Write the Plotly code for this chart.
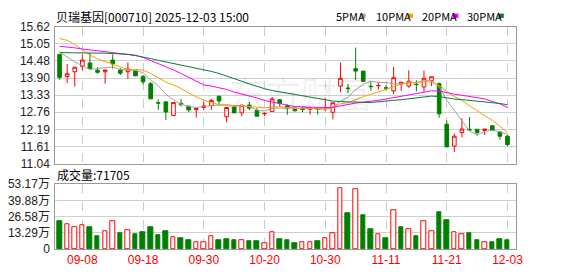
import plotly.graph_objects as go

# ---------------- data ----------------
dates = ["09-03", "09-04", "09-05", "09-08", "09-09", "09-10", "09-11", "09-12", "09-15", "09-16",
         "09-17", "09-18", "09-19", "09-22", "09-23", "09-24", "09-25", "09-26", "09-29", "09-30",
         "10-09", "10-10", "10-13", "10-14", "10-15", "10-16", "10-17", "10-20", "10-21", "10-22",
         "10-23", "10-24", "10-27", "10-28", "10-29", "10-30", "10-31", "11-03", "11-04", "11-05",
         "11-06", "11-07", "11-10", "11-11", "11-12", "11-13", "11-14", "11-17", "11-18", "11-19",
         "11-20", "11-21", "11-24", "11-25", "11-26", "11-27", "11-28", "12-01", "12-02", "12-03"]

opens = [14.70, 13.96, 14.12, 14.30, 14.41, 14.17, 14.12, 14.51, 14.18, 14.12,
         14.15, 13.96, 13.72, 13.08, 13.11, 12.65, 13.06, 12.97, 12.85, 12.92,
         12.99, 13.30, 12.61, 12.94, 12.74, 13.00, 12.82, 12.71, 12.79, 13.18,
         12.98, 12.90, 12.87, 12.87, 12.88, 12.90, 12.76, 13.64, 13.57, 14.22,
         14.14, 13.63, 13.65, 13.58, 13.48, 13.71, 13.64, 13.70, 13.61, 13.82,
         13.72, 12.36, 11.63, 12.08, 12.19, 12.19, 12.15, 12.31, 12.10, 11.96]
highs = [14.70, 14.38, 14.27, 14.70, 14.75, 14.27, 14.18, 14.70, 14.24, 14.43,
         14.15, 14.01, 13.78, 13.19, 13.11, 13.09, 13.21, 12.97, 12.89, 13.11,
         13.21, 13.30, 12.92, 13.00, 13.00, 13.11, 12.90, 12.76, 13.27, 13.21,
         13.03, 12.90, 12.95, 12.95, 12.92, 13.25, 13.08, 14.43, 13.71, 14.93,
         14.14, 13.80, 13.74, 13.66, 14.28, 13.77, 14.17, 13.83, 14.16, 13.95,
         13.76, 12.49, 12.05, 12.56, 12.60, 12.19, 12.20, 12.31, 12.10, 12.00]
lows = [13.85, 13.74, 13.62, 14.17, 14.20, 14.05, 13.72, 14.22, 14.01, 13.88,
        13.98, 13.69, 13.21, 12.84, 12.50, 12.65, 12.95, 12.77, 12.58, 12.84,
        12.84, 13.00, 12.42, 12.74, 12.63, 12.84, 12.63, 12.63, 12.79, 12.95,
        12.68, 12.79, 12.77, 12.68, 12.68, 12.79, 12.52, 13.43, 13.40, 13.85,
        13.78, 13.48, 13.53, 13.48, 13.37, 13.48, 13.58, 13.46, 13.45, 13.64,
        12.58, 11.60, 11.43, 11.92, 12.14, 11.98, 12.00, 12.15, 11.84, 11.62]
closes = [13.93, 14.05, 14.27, 14.51, 14.22, 14.10, 14.18, 14.38, 14.07, 14.21,
          13.98, 13.78, 13.21, 13.07, 12.77, 13.09, 13.02, 12.84, 12.89, 12.97,
          13.16, 13.14, 12.92, 12.74, 13.00, 12.90, 12.63, 12.72, 13.21, 13.05,
          12.90, 12.81, 12.86, 12.88, 12.87, 12.92, 13.08, 13.90, 13.56, 14.14,
          13.80, 13.62, 13.66, 13.57, 13.92, 13.77, 13.80, 13.69, 13.90, 13.95,
          12.71, 11.60, 11.96, 12.20, 12.17, 12.08, 12.20, 12.15, 11.96, 11.68]
close_before_first = 14.20

# volume in 万 (10k)
volumes = [22.6, 20.7, 17.6, 19.2, 17.9, 10.9, 14.5, 23.1, 13.2, 15.3,
           12.4, 14.0, 17.9, 11.7, 14.8, 9.9, 9.3, 7.0, 6.0, 6.0,
           10.6, 7.0, 7.8, 7.0, 7.0, 6.2, 6.2, 4.4, 13.7, 7.8,
           7.0, 4.7, 5.2, 6.0, 6.2, 9.1, 13.2, 49.8, 29.6, 48.8,
           28.0, 16.3, 12.4, 9.3, 31.6, 17.9, 16.1, 10.9, 23.1, 14.5,
           30.3, 23.3, 13.7, 12.2, 13.2, 7.0, 5.2, 5.4, 7.8, 7.1705]

# moving-average values before enough history is available
ma5_head = [14.78, 14.61, 14.45, 14.32]
ma10_head = [15.23, 15.17, 15.04, 14.86, 14.68, 14.55, 14.46, 14.38, 14.29]
ma20_head = [14.97, 14.95, 14.92, 14.88, 14.85, 14.82, 14.80, 14.77, 14.74, 14.71,
             14.67, 14.60, 14.50, 14.40, 14.29, 14.18, 14.06, 13.93, 13.80]
ma30_head = [14.76, 14.76, 14.76, 14.76, 14.75, 14.75, 14.74, 14.73, 14.72, 14.70,
             14.66, 14.62, 14.56, 14.50, 14.45, 14.40, 14.35, 14.30, 14.25, 14.19,
             14.13, 14.06, 13.98, 13.89, 13.80, 13.71, 13.62, 13.55, 13.49]

price_ticks = ["11.04", "11.61", "12.19", "12.76", "13.33", "13.90", "14.48", "15.05", "15.62"]
vol_ticks = ["0", "13.29", "26.58", "39.88", "53.17"]
date_ticks = ["09-08", "09-18", "09-30", "10-20", "10-30", "11-11", "11-21", "12-03"]

title_text = "贝瑞基因[000710] 2025-12-03 15:00"
ma_names = ["5PMA", "10PMA", "20PMA", "30PMA"]
ma_colors = ["#a0a0a0", "#f5a200", "#ff00ff", "#0b7a3a"]

# ---------------- derived ----------------
idx = list(range(len(dates)))


def moving_avg(n, head):
    out = list(head)
    for i in range(n - 1, len(closes)):
        out.append(sum(closes[i - n + 1:i + 1]) / n)
    return out


mas = [moving_avg(5, ma5_head), moving_avg(10, ma10_head),
       moving_avg(20, ma20_head), moving_avg(30, ma30_head)]

RED = "#ff0000"
GREEN = "#008000"
prev = [close_before_first] + closes[:-1]
vol_up = [c >= p for c, p in zip(closes, prev)]
vol_fill = ["#ffffff" if u else GREEN for u in vol_up]
vol_line = [RED if u else GREEN for u in vol_up]

tick_idx = [dates.index(d) for d in date_ticks]

W, H = 578, 276
PL, PR = 56, 522
P_TOP, P_BOT = 21, 165
V_TOP, V_BOT = 186.7, 255

def fx(px):
    return px / W

def fy(py):
    return 1 - py / H

xr = [-0.56, 60.08]

fig = go.Figure()

for name, col, vals in zip(ma_names, ma_colors, mas):
    fig.add_trace(go.Scatter(x=idx, y=vals, mode="lines", line=dict(color=col, width=1),
                             xaxis="x", yaxis="y", showlegend=False, hoverinfo="skip"))

fig.add_trace(go.Candlestick(
    x=idx, open=opens, high=highs, low=lows, close=closes,
    increasing=dict(line=dict(color=RED, width=1), fillcolor="#ffffff"),
    decreasing=dict(line=dict(color=GREEN, width=1), fillcolor=GREEN),
    whiskerwidth=0, xaxis="x", yaxis="y", showlegend=False))

fig.add_trace(go.Bar(x=idx, y=volumes, width=0.6,
                     marker=dict(color=vol_fill, line=dict(color=vol_line, width=1)),
                     xaxis="x2", yaxis="y2", showlegend=False))

num_font = dict(family="Liberation Sans, Arial, sans-serif", size=12, color="#222222")
cjk = "Noto Sans CJK SC, Liberation Sans, sans-serif"

axis_common = dict(showline=True, linecolor="#999999", linewidth=1, mirror=True,
                   zeroline=False, ticks="", fixedrange=True)

fig.update_layout(
    width=W, height=H, margin=dict(l=0, r=0, t=0, b=0),
    paper_bgcolor="#ffffff", plot_bgcolor="#ffffff",
    boxgap=0.32, bargap=0, showlegend=False,
    xaxis=dict(domain=[fx(PL), fx(PR)], range=xr, anchor="y",
               tickvals=tick_idx, showticklabels=False,
               showgrid=True, gridcolor="#cccccc", griddash="dash", gridwidth=1,
               rangeslider=dict(visible=False), **axis_common),
    yaxis=dict(domain=[fy(P_BOT), fy(P_TOP)], range=[float(price_ticks[0]), float(price_ticks[-1])],
               anchor="x", tickvals=[float(t) for t in price_ticks], ticktext=price_ticks,
               tickfont=num_font, showgrid=True, gridcolor="#d0d0d0", gridwidth=1,
               ticklabelstandoff=2, **axis_common),
    xaxis2=dict(domain=[fx(PL), fx(PR)], range=xr, anchor="y2",
                tickvals=tick_idx, ticktext=date_ticks,
                tickfont=dict(family="Liberation Sans, Arial, sans-serif", size=12, color=RED),
                showgrid=True, gridcolor="#cccccc", griddash="dash", gridwidth=1,
                **axis_common),
    yaxis2=dict(domain=[fy(V_BOT), fy(V_TOP)], range=[0, float(vol_ticks[-1])], anchor="x2",
                tickvals=[float(t) for t in vol_ticks],
                ticktext=[t + ("万" if t != "0" else "") for t in vol_ticks],
                tickfont=dict(family="Liberation Sans, Noto Sans CJK SC, sans-serif", size=12, color="#222222"),
                showgrid=True, gridcolor="#d0d0d0", gridwidth=1,
                ticklabelstandoff=2, **axis_common),
)

ann = []
ann.append(dict(text=title_text, x=fx(55), y=fy(9.5), xref="paper", yref="paper",
                xanchor="left", yanchor="middle", showarrow=False,
                font=dict(family=cjk, size=12, color="#000000")))
ann.append(dict(text=f"成交量:{volumes[-1] * 10000:.0f}", x=fx(56), y=fy(176.5), xref="paper", yref="paper",
                xanchor="left", yanchor="middle", showarrow=False,
                font=dict(family=cjk, size=12, color="#000000")))
ann.append(dict(text="东方财富", x=fx(305), y=fy(90), xref="paper", yref="paper",
                xanchor="center", yanchor="middle", showarrow=False,
                font=dict(family=cjk, size=36, color="rgba(0,0,0,0.06)")))

legend_x = [338, 379, 425, 471]
square_x = [364.5, 412.5, 458.5, 504.5]
shapes = []
for name, col, lx, sx in zip(ma_names, ma_colors, legend_x, square_x):
    ann.append(dict(text=name, x=fx(lx), y=fy(9.5), xref="paper", yref="paper",
                    xanchor="left", yanchor="middle", showarrow=False,
                    font=dict(family=cjk, size=11, color="#000000")))
    shapes.append(dict(type="rect", xref="paper", yref="paper",
                       x0=fx(sx), x1=fx(sx + 5.5), y0=fy(11.5), y1=fy(7),
                       fillcolor=col, line=dict(width=0)))

fig.update_layout(annotations=ann, shapes=shapes)

fig.write_html("out.html")
